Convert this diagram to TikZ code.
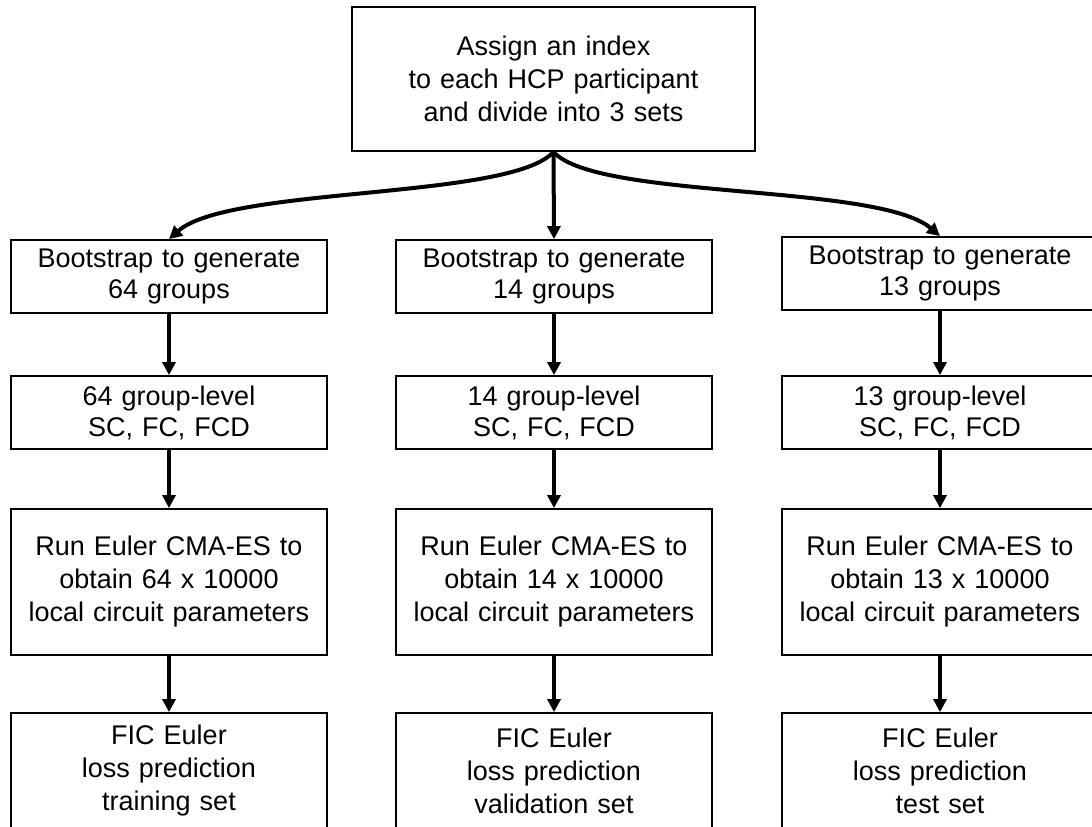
\documentclass[tikz,border=0pt]{standalone}
\usepackage{fontspec}
\setmainfont{Liberation Sans}
\usetikzlibrary{arrows.meta}

\tikzset{
  box/.style={draw=black, line width=1.8pt, inner sep=0pt, align=center,
    text width=#1, minimum height=73pt,
    font=\fontsize{27}{31}\selectfont},
  box/.default=316pt,
  tallbox/.style={box=#1, minimum height=146pt,
    font=\fontsize{27}{33}\selectfont},
  tallbox/.default=316pt,
  lastbox/.style={box, minimum height=116pt,
    font=\fontsize{27}{33}\selectfont},
  arr/.style={line width=4pt, -{Triangle[length=13pt,width=13pt]}}
}

\begin{document}
\begin{tikzpicture}[x=1pt, y=-1pt]
\useasboundingbox (0,0) rectangle (1092,827);
\clip (0,0) rectangle (1092,827);

% top box
\node[tallbox=403pt, minimum height=144pt] (top) at (553.5,79)
  {Assign an index\\to each HCP participant\\and divide into 3 sets};

% bootstrap boxes
\node[box] (b1) at (169,276.5) {Bootstrap to generate\\64 groups};
\node[box] (b2) at (554,276.5) {Bootstrap to generate\\14 groups};
\node[box] (b3) at (940,273.5) {Bootstrap to generate\\13 groups};

% group-level boxes
\node[box] (g1) at (169,412.5) {64 group-level\\SC, FC, FCD};
\node[box] (g2) at (554,412.5) {14 group-level\\SC, FC, FCD};
\node[box] (g3) at (940,412.5) {13 group-level\\SC, FC, FCD};

% optimisation boxes
\node[tallbox] (c1) at (169,582) {Run Euler CMA-ES to\\obtain 64 x 10000\\local circuit parameters};
\node[tallbox] (c2) at (554,582) {Run Euler CMA-ES to\\obtain 14 x 10000\\local circuit parameters};
\node[tallbox] (c3) at (940,582) {Run Euler CMA-ES to\\obtain 13 x 10000\\local circuit parameters};

% prediction boxes
\node[lastbox] (p1) at (169,771) {FIC Euler\\loss prediction\\training set};
\node[lastbox] (p2) at (554,771) {FIC Euler\\loss prediction\\validation set};
\node[lastbox] (p3) at (940,771) {FIC Euler\\loss prediction\\test set};

% branching arrows from the top box
\draw[arr] (top.south) .. controls +(-43,48) and +(60,-53) .. (b1.north);
\draw[arr] (top.south) -- (b2.north);
\draw[arr] (top.south) .. controls +(43,48) and +(-62,-53) .. (b3.north);

% column arrows
\foreach \i in {1,2,3} {
  \draw[arr] (b\i.south) -- (g\i.north);
  \draw[arr] (g\i.south) -- (c\i.north);
  \draw[arr] (c\i.south) -- (p\i.north);
}
\end{tikzpicture}
\end{document}
